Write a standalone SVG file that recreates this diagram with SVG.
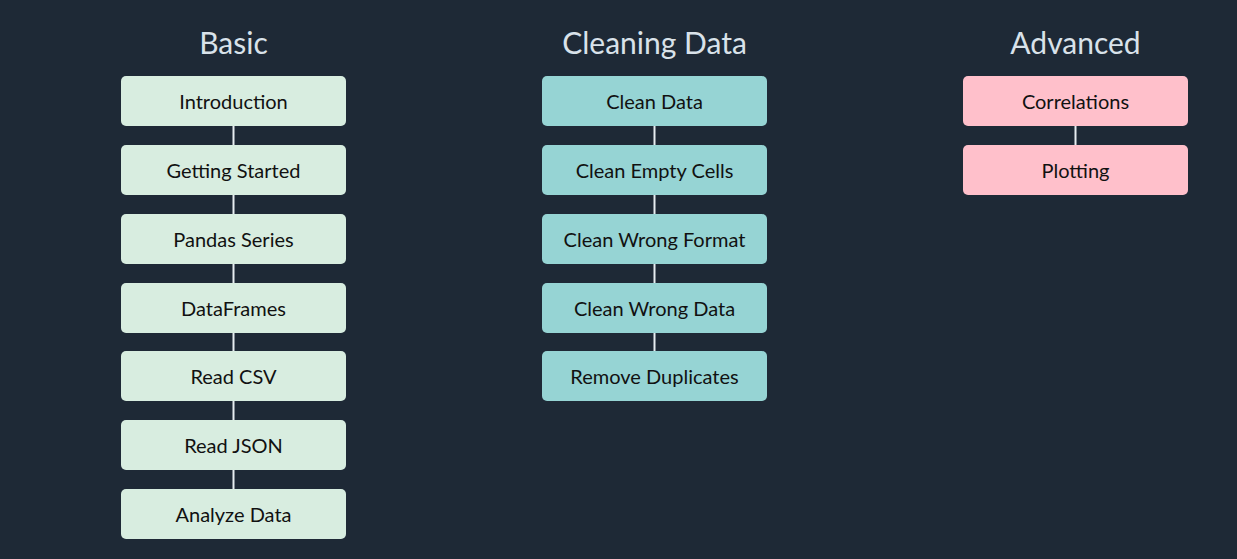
<svg xmlns="http://www.w3.org/2000/svg" width="1237" height="559" viewBox="0 0 1237 559">
<style>
.t{font-family:Lato,"Open Sans","Liberation Sans",sans-serif;font-size:30px;fill:#d9e2ea;text-anchor:middle}
.l{font-family:Lato,"Open Sans","Liberation Sans",sans-serif;font-size:20px;fill:#111;text-anchor:middle}
.b rect{fill:#d8ede0}
.c rect{fill:#96d4d4}
.a rect{fill:#ffc0cb}
.e{stroke:#e6edf0;stroke-width:2}
</style>
<rect width="1237" height="559" fill="#1e2936"/>
<text class="t" x="233.5" y="54">Basic</text>
<text class="t" x="654.5" y="54">Cleaning Data</text>
<text class="t" x="1075.5" y="54">Advanced</text>
<g id="edges" class="e">
<line x1="233.5" y1="125" x2="233.5" y2="145"/>
<line x1="233.5" y1="194" x2="233.5" y2="214"/>
<line x1="233.5" y1="263" x2="233.5" y2="283"/>
<line x1="233.5" y1="332" x2="233.5" y2="351"/>
<line x1="233.5" y1="400" x2="233.5" y2="420"/>
<line x1="233.5" y1="469" x2="233.5" y2="489"/>
<line x1="654.5" y1="125" x2="654.5" y2="145"/>
<line x1="654.5" y1="194" x2="654.5" y2="214"/>
<line x1="654.5" y1="263" x2="654.5" y2="283"/>
<line x1="654.5" y1="332" x2="654.5" y2="351"/>
<line x1="1075.5" y1="125" x2="1075.5" y2="145"/>
</g>
<g id="n-intro" class="b"><rect x="121" y="76" width="225" height="50" rx="5"/><text class="l" x="233.5" y="108.5">Introduction</text></g>
<g id="n-start" class="b"><rect x="121" y="145" width="225" height="50" rx="5"/><text class="l" x="233.5" y="177.5">Getting Started</text></g>
<g id="n-series" class="b"><rect x="121" y="214" width="225" height="50" rx="5"/><text class="l" x="233.5" y="246.5">Pandas Series</text></g>
<g id="n-df" class="b"><rect x="121" y="283" width="225" height="50" rx="5"/><text class="l" x="233.5" y="315.5">DataFrames</text></g>
<g id="n-csv" class="b"><rect x="121" y="351" width="225" height="50" rx="5"/><text class="l" x="233.5" y="383.5">Read CSV</text></g>
<g id="n-json" class="b"><rect x="121" y="420" width="225" height="50" rx="5"/><text class="l" x="233.5" y="452.5">Read JSON</text></g>
<g id="n-analyze" class="b"><rect x="121" y="489" width="225" height="50" rx="5"/><text class="l" x="233.5" y="521.5">Analyze Data</text></g>
<g id="n-clean" class="c"><rect x="542" y="76" width="225" height="50" rx="5"/><text class="l" x="654.5" y="108.5">Clean Data</text></g>
<g id="n-empty" class="c"><rect x="542" y="145" width="225" height="50" rx="5"/><text class="l" x="654.5" y="177.5">Clean Empty Cells</text></g>
<g id="n-format" class="c"><rect x="542" y="214" width="225" height="50" rx="5"/><text class="l" x="654.5" y="246.5">Clean Wrong Format</text></g>
<g id="n-wrong" class="c"><rect x="542" y="283" width="225" height="50" rx="5"/><text class="l" x="654.5" y="315.5">Clean Wrong Data</text></g>
<g id="n-dup" class="c"><rect x="542" y="351" width="225" height="50" rx="5"/><text class="l" x="654.5" y="383.5">Remove Duplicates</text></g>
<g id="n-corr" class="a"><rect x="963" y="76" width="225" height="50" rx="5"/><text class="l" x="1075.5" y="108.5">Correlations</text></g>
<g id="n-plot" class="a"><rect x="963" y="145" width="225" height="50" rx="5"/><text class="l" x="1075.5" y="177.5">Plotting</text></g>
</svg>
